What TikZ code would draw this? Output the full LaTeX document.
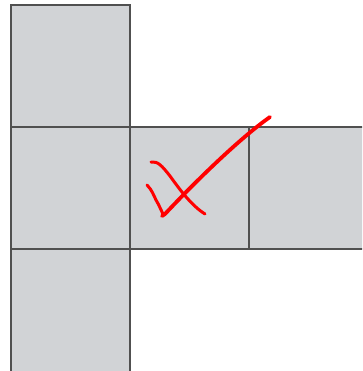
\documentclass[tikz,border=0pt]{standalone}
\usetikzlibrary{positioning}
\definecolor{faceGray}{RGB}{209,211,214}
\definecolor{edgeGray}{RGB}{80,80,80}
\definecolor{tickRed}{RGB}{255,0,0}

\begin{document}
\begin{tikzpicture}[x=1pt,y=-1pt,
      face/.style={draw=edgeGray,fill=faceGray,line width=1.2pt,minimum width=119pt,minimum height=122pt,inner sep=0pt,outer sep=0pt},
      tick/.style={draw=tickRed,line width=3.8pt,line cap=round,line join=round}]
    \useasboundingbox (0,0) rectangle (362,371);
    \clip (0,0) rectangle (362,371);
    \node[face,anchor=north west] (top) at (11,5) {};
    \node[face,below=0pt of top] (mid) {};
    \node[face,below=0pt of mid,minimum height=130pt] (bot) {};
    \node[face,right=0pt of mid] (ctr) {};
    \node[face,right=0pt of ctr] (rgt) {};
    % hand drawn tick
    \draw[tick] (270,117) .. controls (240,138) and (195,182) .. (165,214)
      -- (162,216);
    \draw[tick,line width=3pt] (147,185) .. controls (152,190) and (154,196) .. (156,200)
      .. controls (159,205) and (161,210) .. (163,214);
    \draw[tick,line width=3pt] (151,162) .. controls (158,161) and (162,166) .. (170,176)
      .. controls (180,190) and (192,206) .. (205,214);
  \end{tikzpicture}
\end{document}
